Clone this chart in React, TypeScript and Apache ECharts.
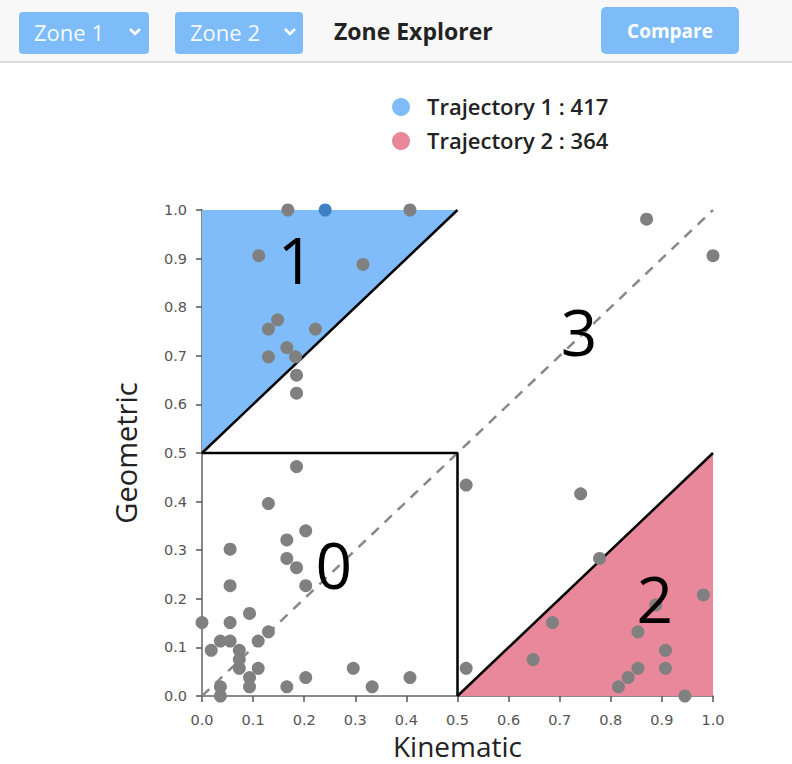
import React, { useEffect, useRef } from "react";
import * as echarts from "echarts";

// ---- data ----
const grayX = [
  0.168, 0.407, 0.111, 0.315, 0.148, 0.130, 0.222, 0.166, 0.130, 0.183, 0.185, 0.185,
  0.185, 0.130, 0.203, 0.166, 0.055, 0.166, 0.185, 0.203, 0.055, 0.093, 0.0, 0.055,
  0.130, 0.036, 0.055, 0.110, 0.018, 0.073, 0.073, 0.073, 0.110, 0.093, 0.093, 0.036,
  0.036, 0.166, 0.203, 0.296, 0.333, 0.407,
  0.517, 0.517, 0.741, 0.778, 0.870, 1.0,
  0.981, 0.888, 0.686, 0.853, 0.907, 0.648, 0.853, 0.907, 0.834, 0.815, 0.945,
];
const grayY = [
  1.0, 1.0, 0.906, 0.888, 0.774, 0.755, 0.755, 0.717, 0.698, 0.698, 0.660, 0.623,
  0.472, 0.396, 0.340, 0.321, 0.302, 0.283, 0.264, 0.227, 0.227, 0.170, 0.151, 0.151,
  0.132, 0.113, 0.113, 0.113, 0.094, 0.094, 0.075, 0.057, 0.057, 0.038, 0.019, 0.019,
  0.0, 0.019, 0.038, 0.057, 0.019, 0.038,
  0.434, 0.057, 0.416, 0.283, 0.981, 0.906,
  0.208, 0.187, 0.151, 0.132, 0.094, 0.075, 0.057, 0.057, 0.038, 0.019, 0.0,
];
const highlightX = [0.241];
const highlightY = [1.0];

const zone1Triangle = [[0, 0.5], [0, 1], [0.5, 1]];
const zone2Triangle = [[0.5, 0], [1, 0.5], [1, 0]];
const zone1Edge = [[0, 0.5], [0.5, 1]];
const zone2Edge = [[0.5, 0], [1, 0.5]];
const zone0Box = [[0, 0.5], [0.5, 0.5], [0.5, 0]];
const diagonal = [[0, 0], [1, 1]];

const zoneLabels = ["0", "1", "2", "3"];
const zoneLabelX = [0.258, 0.184, 0.886, 0.738];
const zoneLabelY = [0.27, 0.899, 0.2, 0.75];

const legendNames = ["Trajectory 1 : 417", "Trajectory 2 : 364"];
const xAxisName = "Kinematic";
const yAxisName = "Geometric";

const BLUE = "#7fbcf9";
const PINK = "#e9879b";
const GRAY = "#808080";
const UI_BLUE = "#7dbcf9";
const FONT = "'Open Sans', 'Noto Sans', sans-serif";

function polygonSeries(points: number[][], fill: string) {
  return {
    type: "custom",
    coordinateSystem: "cartesian2d",
    data: [[points[0][0], points[0][1]]],
    silent: true,
    clip: false,
    z: 1,
    renderItem: (_p: any, api: any) => ({
      type: "polygon",
      shape: { points: points.map((pt) => api.coord(pt)) },
      style: { fill },
    }),
  };
}

function lineSeries(points: number[][], color: string, dashed = false) {
  return {
    type: "line",
    data: points,
    symbol: "none",
    silent: true,
    z: 2,
    clip: false,
    lineStyle: { color, width: 2.5, type: dashed ? [10, 8] : "solid" },
  };
}

function chevron(cx: number, cy: number) {
  return {
    type: "polyline",
    z: 12,
    shape: { points: [[cx - 5, cy - 3], [cx, cy + 2], [cx + 5, cy - 3]] },
    style: { stroke: "#ffffff", lineWidth: 2.6, fill: null },
  };
}

export default function App() {
  const ref = useRef<HTMLDivElement>(null);
  useEffect(() => {
    if (!ref.current) return;
    const chart = echarts.init(ref.current, undefined, { renderer: "svg" });
    const axisCommon = {
      type: "value",
      min: 0,
      max: 1,
      interval: 0.1,
      splitLine: { show: false },
      axisLine: { show: true, onZero: false, lineStyle: { color: "#8a8a8a", width: 2 } },
      axisTick: { show: true, length: 6, lineStyle: { color: "#555", width: 1.5 } },
      axisLabel: {
        color: "#555",
        fontSize: 14.5,
        fontFamily: "'DejaVu Sans', sans-serif",
        formatter: (v: number) => v.toFixed(1),
      },
      nameLocation: "middle",
      nameTextStyle: { color: "#222", fontSize: 29, lineHeight: 29, fontFamily: FONT },
    };
    chart.setOption({
      animation: false,
      backgroundColor: "#ffffff",
      grid: { left: 202, top: 210, right: 79, bottom: 68, containLabel: false, outerBoundsMode: "none" },
      xAxis: {
        ...axisCommon,
        name: xAxisName,
        nameGap: 22,
        nameTextStyle: { color: "#222", fontSize: 28, lineHeight: 28, fontFamily: FONT },
        axisLabel: { ...axisCommon.axisLabel, margin: 16 },
      },
      yAxis: { ...axisCommon, name: yAxisName, nameGap: 62, axisLabel: { ...axisCommon.axisLabel, margin: 15 } },
      series: [
        polygonSeries(zone1Triangle, BLUE),
        polygonSeries(zone2Triangle, PINK),
        lineSeries(diagonal, "#888888", true),
        lineSeries(zone1Edge, "#000000"),
        lineSeries(zone2Edge, "#000000"),
        lineSeries(zone0Box, "#000000"),
        {
          type: "scatter",
          data: grayX.map((x, i) => [x, grayY[i]]),
          symbolSize: 13,
          itemStyle: { color: GRAY, opacity: 1 },
          clip: false,
          z: 3,
        },
        {
          type: "scatter",
          data: highlightX.map((x, i) => [x, highlightY[i]]),
          symbolSize: 13,
          itemStyle: { color: "#3d80c3", opacity: 1 },
          clip: false,
          z: 3,
        },
        {
          type: "custom",
          coordinateSystem: "cartesian2d",
          data: zoneLabelX.map((x, i) => [x, zoneLabelY[i]]),
          silent: true,
          clip: false,
          z: 4,
          renderItem: (params: any, api: any) => {
            const c = api.coord([api.value(0), api.value(1)]);
            return {
              type: "text",
              x: c[0],
              y: c[1],
              style: {
                text: zoneLabels[params.dataIndex],
                fill: "#000",
                fontSize: 64,
                fontWeight: "normal",
                fontFamily: FONT,
                align: "center",
                verticalAlign: "middle",
              },
            };
          },
        },
      ],
      graphic: [
        { type: "rect", shape: { x: 0, y: 0, width: 792, height: 62 }, style: { fill: "#f8f8f8" }, z: 10 },
        { type: "rect", shape: { x: 0, y: 61, width: 792, height: 2 }, style: { fill: "#dcdcdc" }, z: 10 },
        { type: "rect", shape: { x: 19, y: 12, width: 130, height: 42, r: 4 }, style: { fill: UI_BLUE }, z: 11 },
        { type: "text", x: 34, y: 32, style: { text: "Zone 1", fill: "#f4f9ff", fontSize: 22, fontFamily: FONT, verticalAlign: "middle" }, z: 12 },
        chevron(135, 32),
        { type: "rect", shape: { x: 175, y: 12, width: 128, height: 42, r: 4 }, style: { fill: UI_BLUE }, z: 11 },
        { type: "text", x: 190, y: 32, style: { text: "Zone 2", fill: "#f4f9ff", fontSize: 22, fontFamily: FONT, verticalAlign: "middle" }, z: 12 },
        chevron(290, 32),
        { type: "text", x: 334, y: 31, style: { text: "Zone Explorer", fill: "#222", fontSize: 23, fontWeight: "bold", fontFamily: FONT, verticalAlign: "middle" }, z: 12 },
        { type: "rect", shape: { x: 601, y: 7, width: 138, height: 47, r: 5 }, style: { fill: UI_BLUE }, z: 11 },
        { type: "text", x: 670, y: 31, style: { text: "Compare", fill: "#ffffff", fontSize: 19, fontWeight: "bold", fontFamily: FONT, align: "center", verticalAlign: "middle" }, z: 12 },
        { type: "circle", shape: { cx: 401, cy: 107, r: 9 }, style: { fill: BLUE }, z: 12 },
        { type: "text", x: 427, y: 106, style: { text: legendNames[0], fill: "#222", fontSize: 22, fontWeight: 600, fontFamily: FONT, verticalAlign: "middle" }, z: 12 },
        { type: "circle", shape: { cx: 401, cy: 141, r: 9 }, style: { fill: PINK }, z: 12 },
        { type: "text", x: 427, y: 140, style: { text: legendNames[1], fill: "#222", fontSize: 22, fontWeight: 600, fontFamily: FONT, verticalAlign: "middle" }, z: 12 },
      ],
    });
    return () => chart.dispose();
  }, []);
  return (
    <div
      ref={ref}
      style={{ position: "absolute", left: 0, top: 0, width: 792, height: 764 }}
    />
  );
}
